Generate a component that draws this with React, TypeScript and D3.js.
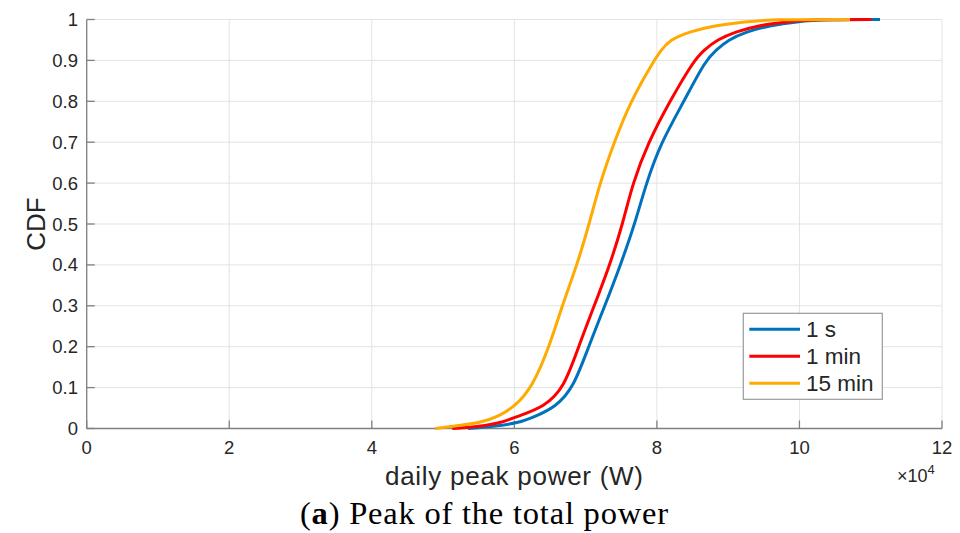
import React from "react";
import * as d3 from "d3";

const cdfLevels = [0, 0.005, 0.013, 0.03, 0.053, 0.1, 0.2, 0.3, 0.4, 0.5, 0.6, 0.7, 0.8, 0.9, 0.925, 0.95, 0.97, 0.985, 0.995, 1, 1];
const power1s = [5.35, 5.7, 6.05, 6.3, 6.58, 6.83, 7.04, 7.27, 7.49, 7.69, 7.85, 8.06, 8.38, 8.68, 8.83, 9.0, 9.25, 9.58, 9.95, 10.4, 11.13];
const power1min = [5.13, 5.52, 5.8, 6.05, 6.42, 6.7, 6.9, 7.12, 7.34, 7.52, 7.66, 7.88, 8.18, 8.52, 8.66, 8.84, 9.1, 9.42, 9.8, 10.3, 11.01];
const power15min = [4.89, 5.1, 5.52, 5.78, 6.0, 6.25, 6.49, 6.67, 6.88, 7.05, 7.2, 7.4, 7.63, 7.96, 8.06, 8.18, 8.45, 8.8, 9.25, 9.6, 10.71];
const seriesNames = ["1 s", "1 min", "15 min"];
const seriesColors = ["#0072BD", "#FF0000", "#FFAA00"];
const xTicks = [0, 2, 4, 6, 8, 10, 12];
const yTicks = [0, 0.1, 0.2, 0.3, 0.4, 0.5, 0.6, 0.7, 0.8, 0.9, 1];

export default function App() {
  const W = 960, H = 533;
  const x = d3.scaleLinear().domain([0, 12]).range([86.7, 942]);
  const y = d3.scaleLinear().domain([0, 1]).range([428.5, 19.5]);
  const series = [power1s, power1min, power15min];
  const line = d3
    .line<[number, number]>()
    .x((d) => x(d[0]))
    .y((d) => y(d[1]))
    .curve(d3.curveBasis);
  const font = "Arial, 'Liberation Sans', Helvetica, sans-serif";
  const textColor = "#262626";
  const axisColor = "#808080";
  const fmtY = (v: number) => (v === 0 || v === 1 ? String(v) : v.toFixed(1));

  return (
    <svg width={W} height={H} style={{ position: "absolute", left: 0, top: 0, background: "#fff" }}>
      <rect x={0} y={0} width={W} height={H} fill="#fff" />
      {xTicks.map((t) => (
        <line key={"gx" + t} x1={x(t)} x2={x(t)} y1={y(0)} y2={y(1)} stroke="#e3e3e3" strokeWidth={1} />
      ))}
      {yTicks.map((t) => (
        <line key={"gy" + t} x1={x(0)} x2={x(12)} y1={y(t)} y2={y(t)} stroke="#e3e3e3" strokeWidth={1} />
      ))}
      <line x1={x(0)} x2={x(12)} y1={y(0)} y2={y(0)} stroke={axisColor} strokeWidth={1.3} />
      <line x1={x(0)} x2={x(0)} y1={y(0)} y2={y(1)} stroke={axisColor} strokeWidth={1.3} />
      {xTicks.map((t) => (
        <g key={"tx" + t}>
          <line x1={x(t)} x2={x(t)} y1={y(0)} y2={y(0) - 8} stroke={axisColor} strokeWidth={1.3} />
          <text x={x(t)} y={454} textAnchor="middle" fontFamily={font} fontSize={18.5} fill={textColor}>
            {t}
          </text>
        </g>
      ))}
      {yTicks.map((t) => (
        <g key={"ty" + t}>
          <line x1={x(0)} x2={x(0) + 8} y1={y(t)} y2={y(t)} stroke={axisColor} strokeWidth={1.3} />
          <text x={78} y={y(t) + 6.5} textAnchor="end" fontFamily={font} fontSize={18.5} fill={textColor}>
            {fmtY(t)}
          </text>
        </g>
      ))}
      {series.map((vals, i) => (
        <path
          key={"s" + i}
          d={line(vals.map((v, j) => [v, cdfLevels[j]] as [number, number])) || ""}
          fill="none"
          stroke={seriesColors[i]}
          strokeWidth={3}
          strokeLinejoin="round"
        />
      ))}
      <text
        transform="translate(45,224) rotate(-90)"
        textAnchor="middle"
        fontFamily={font}
        fontSize={26}
        fill={textColor}
      >
        CDF
      </text>
      <text
        x={514}
        y={485}
        textAnchor="middle"
        fontFamily={font}
        fontSize={26}
        textLength={258}
        lengthAdjust="spacing"
        fill={textColor}
      >
        daily peak power (W)
      </text>
      <text x={897} y={482} fontFamily={font} fontSize={18} fill={textColor}>
        ×10
        <tspan dy={-8} fontSize={13}>4</tspan>
      </text>
      <rect x={743.3} y={313.3} width={139} height={86} fill="#fff" stroke="#9a9a9a" strokeWidth={1.2} />
      {seriesNames.map((n, i) => (
        <g key={"l" + i}>
          <line x1={749.3} x2={800} y1={329.3 + i * 27} y2={329.3 + i * 27} stroke={seriesColors[i]} strokeWidth={3} />
          <text x={806} y={329.3 + i * 27 + 8} fontFamily={font} fontSize={22.5} fill={textColor}>
            {n}
          </text>
        </g>
      ))}
      <text
        x={484}
        y={524}
        textAnchor="middle"
        fontFamily="'Liberation Serif', 'Times New Roman', serif"
        fontSize={32.5}
        textLength={368}
        lengthAdjust="spacing"
        fill="#000"
      >
        (<tspan fontWeight="bold">a</tspan>) Peak of the total power
      </text>
    </svg>
  );
}
